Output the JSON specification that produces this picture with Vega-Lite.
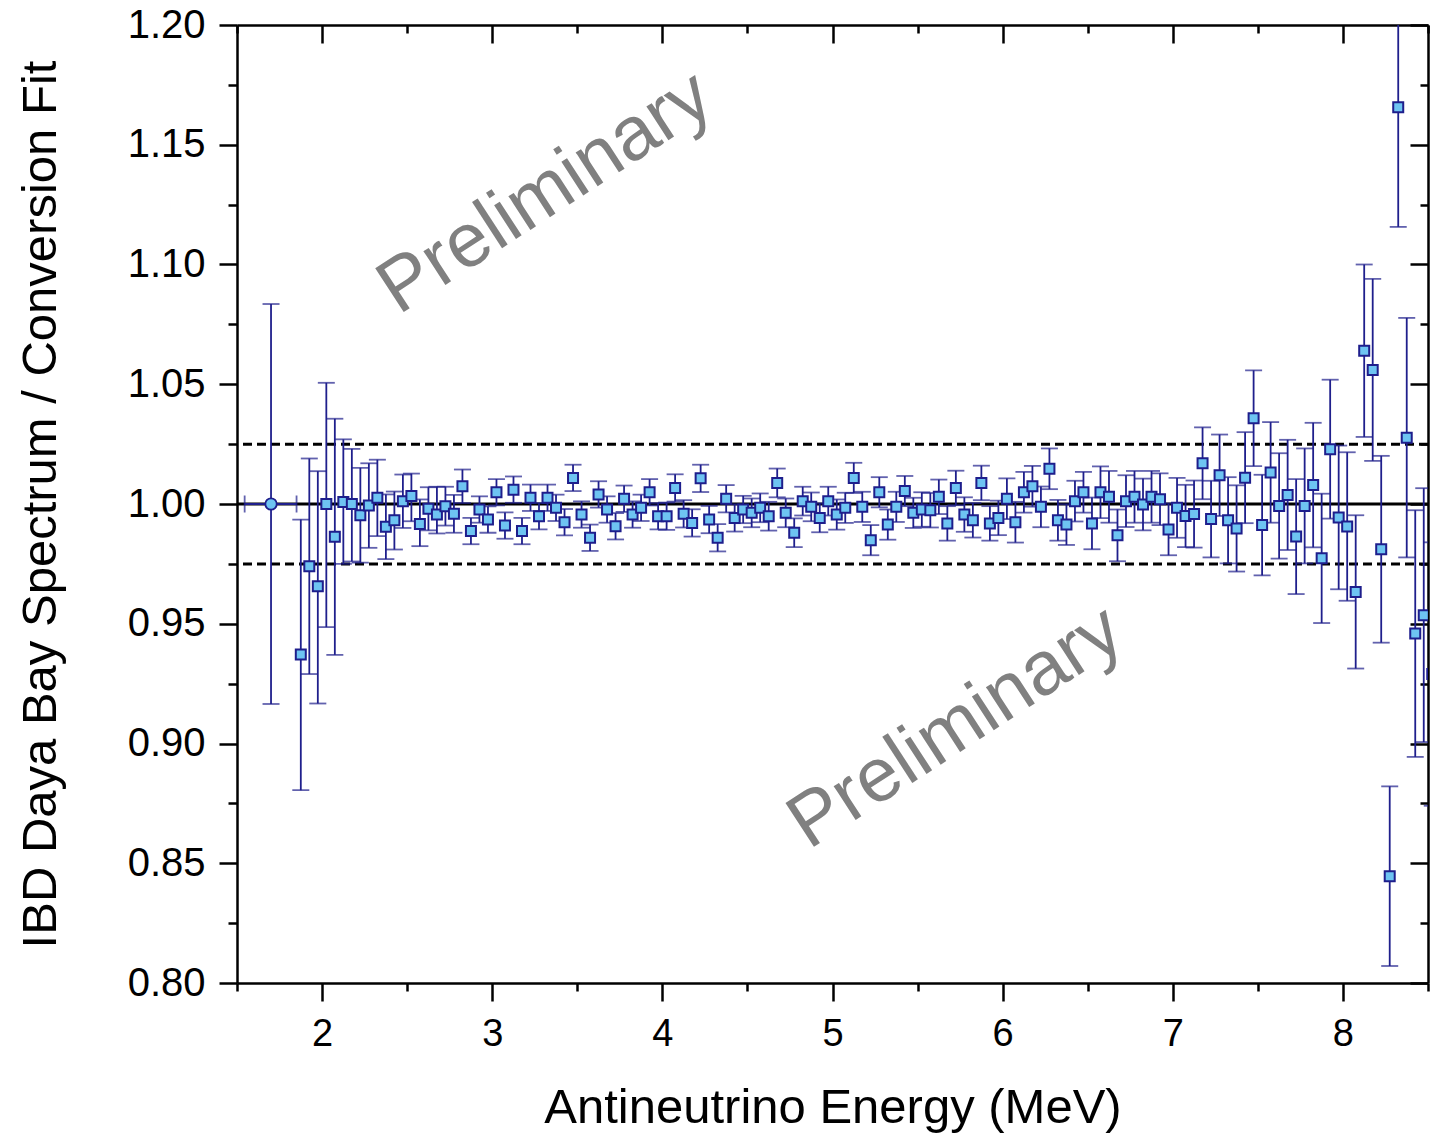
{
  "$schema": "https://vega.github.io/schema/vega-lite/v6.json",
  "width": 1191,
  "height": 958,
  "autosize": "none",
  "padding": {"left": 237, "top": 25, "right": 12, "bottom": 150},
  "background": "white",
  "config": {"view": {"stroke": null}, "axis": {"grid": false}},
  "datasets": {
    "pts": [
      {"x":1.875,"y":0.9372,"lo":0.8805,"hi":0.9935},
      {"x":1.925,"y":0.974,"lo":0.929,"hi":1.019},
      {"x":1.975,"y":0.9657,"lo":0.9167,"hi":1.0137},
      {"x":2.025,"y":1.0,"lo":0.9486,"hi":1.0506},
      {"x":2.075,"y":0.9863,"lo":0.937,"hi":1.0356},
      {"x":2.125,"y":1.0008,"lo":0.975,"hi":1.027},
      {"x":2.175,"y":1.0,"lo":0.976,"hi":1.023},
      {"x":2.225,"y":0.9953,"lo":0.9755,"hi":1.0151},
      {"x":2.275,"y":0.9994,"lo":0.9817,"hi":1.017},
      {"x":2.325,"y":1.0026,"lo":0.9866,"hi":1.0185},
      {"x":2.375,"y":0.9905,"lo":0.977,"hi":1.004},
      {"x":2.425,"y":0.9932,"lo":0.981,"hi":1.0052},
      {"x":2.475,"y":1.0012,"lo":0.99,"hi":1.0123},
      {"x":2.525,"y":1.0033,"lo":0.9928,"hi":1.0127},
      {"x":2.575,"y":0.9917,"lo":0.9824,"hi":1.0019},
      {"x":2.625,"y":0.998,"lo":0.989,"hi":1.007},
      {"x":2.675,"y":0.9956,"lo":0.9877,"hi":1.0072},
      {"x":2.725,"y":0.9991,"lo":0.991,"hi":1.0072},
      {"x":2.775,"y":0.9959,"lo":0.988,"hi":1.0038},
      {"x":2.825,"y":1.0074,"lo":1.0004,"hi":1.0144},
      {"x":2.875,"y":0.9887,"lo":0.9832,"hi":0.9942},
      {"x":2.925,"y":0.9977,"lo":0.9922,"hi":1.0032},
      {"x":2.975,"y":0.9935,"lo":0.988,"hi":0.999},
      {"x":3.025,"y":1.0049,"lo":0.9994,"hi":1.0104},
      {"x":3.075,"y":0.991,"lo":0.9855,"hi":0.9965},
      {"x":3.125,"y":1.006,"lo":1.0005,"hi":1.0115},
      {"x":3.175,"y":0.9887,"lo":0.9832,"hi":0.9942},
      {"x":3.225,"y":1.0026,"lo":0.9971,"hi":1.0081},
      {"x":3.275,"y":0.9949,"lo":0.9894,"hi":1.0004},
      {"x":3.325,"y":1.0026,"lo":0.9971,"hi":1.0081},
      {"x":3.375,"y":0.9984,"lo":0.9929,"hi":1.0039},
      {"x":3.425,"y":0.9924,"lo":0.9869,"hi":0.9979},
      {"x":3.475,"y":1.0109,"lo":1.0054,"hi":1.0164},
      {"x":3.525,"y":0.9956,"lo":0.9901,"hi":1.0011},
      {"x":3.575,"y":0.9859,"lo":0.9804,"hi":0.9914},
      {"x":3.625,"y":1.004,"lo":0.9985,"hi":1.0095},
      {"x":3.675,"y":0.9977,"lo":0.9922,"hi":1.0032},
      {"x":3.725,"y":0.9907,"lo":0.9852,"hi":0.9962},
      {"x":3.775,"y":1.0022,"lo":0.9967,"hi":1.0077},
      {"x":3.825,"y":0.9956,"lo":0.9901,"hi":1.0011},
      {"x":3.875,"y":0.9984,"lo":0.9929,"hi":1.0039},
      {"x":3.925,"y":1.0049,"lo":0.9994,"hi":1.0104},
      {"x":3.975,"y":0.9949,"lo":0.9894,"hi":1.0004},
      {"x":4.025,"y":0.9949,"lo":0.9892,"hi":1.0006},
      {"x":4.075,"y":1.0067,"lo":1.001,"hi":1.0124},
      {"x":4.125,"y":0.9959,"lo":0.9902,"hi":1.0016},
      {"x":4.175,"y":0.9921,"lo":0.9864,"hi":0.9978},
      {"x":4.225,"y":1.0107,"lo":1.005,"hi":1.0164},
      {"x":4.275,"y":0.9935,"lo":0.9878,"hi":0.9992},
      {"x":4.325,"y":0.9859,"lo":0.9802,"hi":0.9916},
      {"x":4.375,"y":1.0022,"lo":0.9965,"hi":1.0079},
      {"x":4.425,"y":0.9942,"lo":0.9885,"hi":0.9999},
      {"x":4.475,"y":0.9977,"lo":0.992,"hi":1.0034},
      {"x":4.525,"y":0.9963,"lo":0.9903,"hi":1.0023},
      {"x":4.575,"y":0.9984,"lo":0.9924,"hi":1.0044},
      {"x":4.625,"y":0.9949,"lo":0.9889,"hi":1.0009},
      {"x":4.675,"y":1.0088,"lo":1.0028,"hi":1.0148},
      {"x":4.725,"y":0.9963,"lo":0.9903,"hi":1.0023},
      {"x":4.775,"y":0.988,"lo":0.982,"hi":0.994},
      {"x":4.825,"y":1.0012,"lo":0.9952,"hi":1.0072},
      {"x":4.875,"y":0.9988,"lo":0.9928,"hi":1.0048},
      {"x":4.925,"y":0.9942,"lo":0.9882,"hi":1.0002},
      {"x":4.975,"y":1.0012,"lo":0.9952,"hi":1.0072},
      {"x":5.025,"y":0.9956,"lo":0.9893,"hi":1.0019},
      {"x":5.075,"y":0.9984,"lo":0.9921,"hi":1.0047},
      {"x":5.125,"y":1.0109,"lo":1.0046,"hi":1.0172},
      {"x":5.175,"y":0.9988,"lo":0.9925,"hi":1.0051},
      {"x":5.225,"y":0.9849,"lo":0.9786,"hi":0.9912},
      {"x":5.275,"y":1.0049,"lo":0.9986,"hi":1.0112},
      {"x":5.325,"y":0.9914,"lo":0.9851,"hi":0.9977},
      {"x":5.375,"y":0.9988,"lo":0.9925,"hi":1.0051},
      {"x":5.425,"y":1.0054,"lo":0.9991,"hi":1.0117},
      {"x":5.475,"y":0.9963,"lo":0.99,"hi":1.0026},
      {"x":5.525,"y":0.9977,"lo":0.9905,"hi":1.0049},
      {"x":5.575,"y":0.9974,"lo":0.9902,"hi":1.0046},
      {"x":5.625,"y":1.003,"lo":0.9958,"hi":1.0102},
      {"x":5.675,"y":0.9919,"lo":0.9847,"hi":0.9991},
      {"x":5.725,"y":1.0067,"lo":0.9995,"hi":1.0139},
      {"x":5.775,"y":0.9956,"lo":0.9884,"hi":1.0028},
      {"x":5.825,"y":0.9932,"lo":0.986,"hi":1.0004},
      {"x":5.875,"y":1.0088,"lo":1.0016,"hi":1.016},
      {"x":5.925,"y":0.9919,"lo":0.9847,"hi":0.9991},
      {"x":5.975,"y":0.9942,"lo":0.987,"hi":1.0014},
      {"x":6.025,"y":1.0022,"lo":0.9937,"hi":1.0107},
      {"x":6.075,"y":0.9924,"lo":0.9839,"hi":1.0009},
      {"x":6.125,"y":1.0049,"lo":0.9964,"hi":1.0134},
      {"x":6.175,"y":1.0074,"lo":0.9989,"hi":1.0159},
      {"x":6.225,"y":0.9988,"lo":0.9903,"hi":1.0073},
      {"x":6.275,"y":1.0147,"lo":1.0062,"hi":1.0232},
      {"x":6.325,"y":0.9932,"lo":0.9847,"hi":1.0017},
      {"x":6.375,"y":0.9914,"lo":0.9829,"hi":0.9999},
      {"x":6.425,"y":1.0012,"lo":0.9927,"hi":1.0097},
      {"x":6.475,"y":1.0049,"lo":0.9964,"hi":1.0134},
      {"x":6.525,"y":0.9919,"lo":0.9811,"hi":1.0027},
      {"x":6.575,"y":1.0049,"lo":0.9941,"hi":1.0157},
      {"x":6.625,"y":1.003,"lo":0.9922,"hi":1.0138},
      {"x":6.675,"y":0.9869,"lo":0.9761,"hi":0.9977},
      {"x":6.725,"y":1.0012,"lo":0.9904,"hi":1.012},
      {"x":6.775,"y":1.003,"lo":0.9922,"hi":1.0138},
      {"x":6.825,"y":0.9998,"lo":0.989,"hi":1.0106},
      {"x":6.875,"y":1.003,"lo":0.9922,"hi":1.0138},
      {"x":6.925,"y":1.002,"lo":0.9912,"hi":1.0128},
      {"x":6.975,"y":0.9894,"lo":0.9786,"hi":1.0002},
      {"x":7.025,"y":0.9984,"lo":0.9859,"hi":1.0109},
      {"x":7.075,"y":0.995,"lo":0.982,"hi":1.008},
      {"x":7.125,"y":0.9958,"lo":0.9818,"hi":1.0098},
      {"x":7.175,"y":1.017,"lo":1.002,"hi":1.032},
      {"x":7.225,"y":0.9937,"lo":0.9777,"hi":1.0097},
      {"x":7.275,"y":1.012,"lo":0.995,"hi":1.029},
      {"x":7.325,"y":0.9932,"lo":0.9752,"hi":1.0112},
      {"x":7.375,"y":0.9898,"lo":0.9718,"hi":1.0078},
      {"x":7.425,"y":1.011,"lo":0.992,"hi":1.03},
      {"x":7.475,"y":1.0358,"lo":1.0158,"hi":1.0558},
      {"x":7.525,"y":0.9912,"lo":0.9702,"hi":1.0122},
      {"x":7.575,"y":1.0132,"lo":0.9922,"hi":1.0342},
      {"x":7.625,"y":0.9992,"lo":0.9772,"hi":1.0212},
      {"x":7.675,"y":1.0038,"lo":0.9808,"hi":1.0268},
      {"x":7.725,"y":0.9864,"lo":0.9624,"hi":1.0104},
      {"x":7.775,"y":0.9992,"lo":0.9752,"hi":1.0232},
      {"x":7.825,"y":1.0079,"lo":0.9819,"hi":1.0339},
      {"x":7.875,"y":0.9773,"lo":0.9503,"hi":1.0043},
      {"x":7.925,"y":1.0229,"lo":0.9939,"hi":1.0519},
      {"x":7.975,"y":0.9944,"lo":0.9644,"hi":1.0244},
      {"x":8.025,"y":0.9906,"lo":0.9596,"hi":1.0216},
      {"x":8.075,"y":0.9633,"lo":0.9313,"hi":0.9953},
      {"x":8.125,"y":1.064,"lo":1.028,"hi":1.1},
      {"x":8.175,"y":1.056,"lo":1.018,"hi":1.094},
      {"x":8.225,"y":0.9811,"lo":0.9421,"hi":1.0201},
      {"x":8.275,"y":0.8446,"lo":0.8071,"hi":0.8821},
      {"x":8.325,"y":1.1657,"lo":1.1157,"hi":1.2157},
      {"x":8.375,"y":1.0277,"lo":0.9777,"hi":1.0777},
      {"x":8.425,"y":0.9459,"lo":0.8944,"hi":0.9974},
      {"x":8.475,"y":0.9536,"lo":0.9006,"hi":1.0066},
      {"x":8.525,"y":0.929,"lo":0.874,"hi":0.984}
    ],
    "first": [{"x":1.7,"y":1.0,"lo":0.9165,"hi":1.0835,"xlo":1.545,"xhi":1.85}],
    "dash": [{"v":0.975},{"v":1.025}],
    "unity": [{"v":1.0}],
    "wm": [
      {"x":3.312,"y":1.130,"label":"Preliminary"},
      {"x":5.724,"y":0.9067,"label":"Preliminary"}
    ]
  },
  "layer": [
    {
      "data": {"name": "dash"},
      "mark": {"type": "rule", "color": "black", "strokeWidth": 3, "strokeDash": [9, 5]},
      "encoding": {"y": {"field": "v", "type": "quantitative", "scale": {"domain": [0.8, 1.2], "nice": false, "zero": false}, "axis": null}}
    },
    {
      "data": {"name": "unity"},
      "mark": {"type": "rule", "color": "black", "strokeWidth": 3},
      "encoding": {"y": {"field": "v", "type": "quantitative", "scale": {"domain": [0.8, 1.2], "nice": false, "zero": false}, "axis": null}}
    },
    {
      "data": {"name": "wm"},
      "mark": {"type": "text", "angle": -33, "fontSize": 76, "font": "Liberation Sans", "color": "#808080", "align": "center", "baseline": "middle"},
      "encoding": {
        "x": {"field": "x", "type": "quantitative", "scale": {"domain": [1.5, 8.5], "nice": false, "zero": false}, "axis": null},
        "y": {"field": "y", "type": "quantitative", "scale": {"domain": [0.8, 1.2], "nice": false, "zero": false}, "axis": null},
        "text": {"field": "label"}
      }
    },
    {
      "data": {"name": "pts"},
      "mark": {"type": "rule", "color": "#1F1F8C", "strokeWidth": 1.8, "clip": true},
      "encoding": {
        "x": {"field": "x", "type": "quantitative", "scale": {"domain": [1.5, 8.5], "nice": false, "zero": false},
          "axis": {"orient": "bottom", "values": [1.5, 2.5, 3.5, 4.5, 5.5, 6.5, 7.5, 8.5], "tickSize": 8, "tickWidth": 2.5, "tickColor": "black", "labels": false, "domain": false, "title": null, "grid": false}},
        "y": {"field": "lo", "type": "quantitative", "scale": {"domain": [0.8, 1.2], "nice": false, "zero": false},
          "axis": {"orient": "left", "values": [0.825, 0.875, 0.925, 0.975, 1.025, 1.075, 1.125, 1.175], "tickSize": 9, "tickWidth": 2.5, "tickColor": "black", "labels": false, "domain": false, "title": null, "grid": false}},
        "y2": {"field": "hi"}
      }
    },
    {
      "data": {"name": "pts"},
      "mark": {"type": "tick", "orient": "horizontal", "color": "#1F1F8C", "size": 17, "thickness": 1.8, "clip": true},
      "encoding": {
        "x": {"field": "x", "type": "quantitative", "scale": {"domain": [1.5, 8.5], "nice": false, "zero": false},
          "axis": {"orient": "top", "values": [2, 3, 4, 5, 6, 7, 8], "tickSize": -18, "tickWidth": 2.5, "tickColor": "black", "labels": false, "domain": true, "domainColor": "black", "domainWidth": 2.5, "title": null, "grid": false}},
        "y": {"field": "lo", "type": "quantitative", "scale": {"domain": [0.8, 1.2], "nice": false, "zero": false},
          "axis": {"orient": "right", "values": [0.8, 0.85, 0.9, 0.95, 1.0, 1.05, 1.1, 1.15, 1.2], "tickSize": -18, "tickWidth": 2.5, "tickColor": "black", "labels": false, "domain": true, "domainColor": "black", "domainWidth": 2.5, "title": null, "grid": false}}
      }
    },
    {
      "data": {"name": "pts"},
      "mark": {"type": "tick", "orient": "horizontal", "color": "#1F1F8C", "size": 17, "thickness": 1.8, "clip": true},
      "encoding": {
        "x": {"field": "x", "type": "quantitative", "scale": {"domain": [1.5, 8.5], "nice": false, "zero": false},
          "axis": {"orient": "top", "values": [1.5, 2.5, 3.5, 4.5, 5.5, 6.5, 7.5, 8.5], "tickSize": -8, "tickWidth": 2.5, "tickColor": "black", "labels": false, "domain": false, "title": null, "grid": false}},
        "y": {"field": "hi", "type": "quantitative", "scale": {"domain": [0.8, 1.2], "nice": false, "zero": false},
          "axis": {"orient": "right", "values": [0.825, 0.875, 0.925, 0.975, 1.025, 1.075, 1.125, 1.175], "tickSize": -8, "tickWidth": 2.5, "tickColor": "black", "labels": false, "domain": false, "title": null, "grid": false}}
      }
    },
    {
      "data": {"name": "first"},
      "mark": {"type": "rule", "color": "#1F1F8C", "strokeWidth": 1.8},
      "encoding": {
        "x": {"field": "x", "type": "quantitative", "scale": {"domain": [1.5, 8.5], "nice": false, "zero": false}, "axis": null},
        "y": {"field": "lo", "type": "quantitative", "scale": {"domain": [0.8, 1.2], "nice": false, "zero": false}, "axis": null},
        "y2": {"field": "hi"}
      }
    },
    {
      "data": {"name": "first"},
      "mark": {"type": "rule", "color": "#1F1F8C", "strokeWidth": 1.8},
      "encoding": {
        "x": {"field": "xlo", "type": "quantitative", "scale": {"domain": [1.5, 8.5], "nice": false, "zero": false}, "axis": null},
        "x2": {"field": "xhi"},
        "y": {"field": "y", "type": "quantitative", "scale": {"domain": [0.8, 1.2], "nice": false, "zero": false}, "axis": null}
      }
    },
    {
      "data": {"name": "first"},
      "mark": {"type": "tick", "orient": "horizontal", "color": "#1F1F8C", "size": 17, "thickness": 1.8},
      "encoding": {
        "x": {"field": "x", "type": "quantitative", "scale": {"domain": [1.5, 8.5], "nice": false, "zero": false}, "axis": null},
        "y": {"field": "lo", "type": "quantitative", "scale": {"domain": [0.8, 1.2], "nice": false, "zero": false}, "axis": null}
      }
    },
    {
      "data": {"name": "first"},
      "mark": {"type": "tick", "orient": "horizontal", "color": "#1F1F8C", "size": 17, "thickness": 1.8},
      "encoding": {
        "x": {"field": "x", "type": "quantitative", "scale": {"domain": [1.5, 8.5], "nice": false, "zero": false}, "axis": null},
        "y": {"field": "hi", "type": "quantitative", "scale": {"domain": [0.8, 1.2], "nice": false, "zero": false}, "axis": null}
      }
    },
    {
      "data": {"name": "first"},
      "mark": {"type": "tick", "orient": "vertical", "color": "#1F1F8C", "size": 17, "thickness": 1.8},
      "encoding": {
        "x": {"field": "xlo", "type": "quantitative", "scale": {"domain": [1.5, 8.5], "nice": false, "zero": false}, "axis": null},
        "y": {"field": "y", "type": "quantitative", "scale": {"domain": [0.8, 1.2], "nice": false, "zero": false}, "axis": null}
      }
    },
    {
      "data": {"name": "first"},
      "mark": {"type": "tick", "orient": "vertical", "color": "#1F1F8C", "size": 17, "thickness": 1.8},
      "encoding": {
        "x": {"field": "xhi", "type": "quantitative", "scale": {"domain": [1.5, 8.5], "nice": false, "zero": false}, "axis": null},
        "y": {"field": "y", "type": "quantitative", "scale": {"domain": [0.8, 1.2], "nice": false, "zero": false}, "axis": null}
      }
    },
    {
      "data": {"name": "first"},
      "mark": {"type": "point", "shape": "circle", "filled": true, "size": 130, "fill": "#6EC4F2", "stroke": "#1E1E8C", "strokeWidth": 1.8, "opacity": 1},
      "encoding": {
        "x": {"field": "x", "type": "quantitative", "scale": {"domain": [1.5, 8.5], "nice": false, "zero": false}, "axis": null},
        "y": {"field": "y", "type": "quantitative", "scale": {"domain": [0.8, 1.2], "nice": false, "zero": false}, "axis": null}
      }
    },
    {
      "data": {"name": "pts"},
      "mark": {"type": "point", "shape": "square", "filled": true, "size": 100, "fill": "#6EC4F2", "stroke": "#1E1E8C", "strokeWidth": 2, "opacity": 1, "clip": true},
      "encoding": {
        "x": {"field": "x", "type": "quantitative", "scale": {"domain": [1.5, 8.5], "nice": false, "zero": false},
          "axis": {"orient": "bottom", "values": [2, 3, 4, 5, 6, 7, 8], "format": "d", "tickSize": 18, "tickWidth": 2.5, "tickColor": "black", "domain": true, "domainColor": "black", "domainWidth": 2.5, "labelFont": "Liberation Sans", "labelFontSize": 38, "labelColor": "black", "labelPadding": 14, "labelFlush": false, "title": "Antineutrino Energy (MeV)", "titleFont": "Liberation Sans", "titleFontSize": 49, "titleFontWeight": "normal", "titleColor": "black", "titlePadding": 30, "grid": false}},
        "y": {"field": "y", "type": "quantitative", "scale": {"domain": [0.8, 1.2], "nice": false, "zero": false},
          "axis": {"orient": "left", "values": [0.8, 0.85, 0.9, 0.95, 1.0, 1.05, 1.1, 1.15, 1.2], "format": ".2f", "tickSize": 18, "tickWidth": 2.5, "tickColor": "black", "domain": true, "domainColor": "black", "domainWidth": 2.5, "labelFont": "Liberation Sans", "labelFontSize": 40, "labelColor": "black", "labelPadding": 14, "title": "IBD Daya Bay Spectrum / Conversion Fit", "titleFont": "Liberation Sans", "titleFontSize": 49, "titleFontWeight": "normal", "titleColor": "black", "titlePadding": 62, "grid": false}}
      }
    }
  ],
  "resolve": {"axis": {"x": "independent", "y": "independent"}}
}
